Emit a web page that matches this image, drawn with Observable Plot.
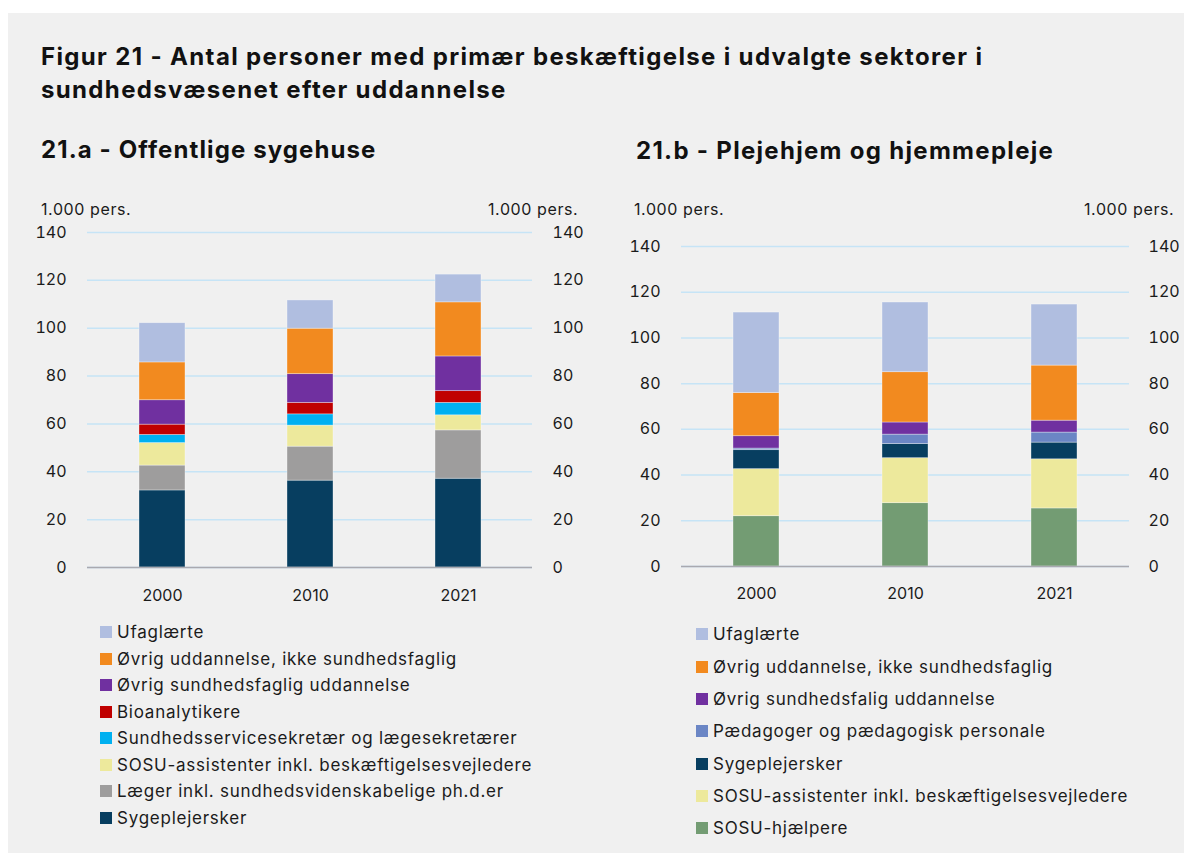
<!DOCTYPE html>
<html>
<head>
<meta charset="utf-8">
<script src="https://cdn.jsdelivr.net/npm/d3@7"></script>
<script src="https://cdn.jsdelivr.net/npm/@observablehq/plot@0.6"></script>
<style>
  body { margin:0; background:#fff; font-family: Inter, "Open Sans", sans-serif; color:#1b1b1b; }
  #panel { position:absolute; left:8px; top:13px; width:1176px; height:840px; background:#f0f0f0; }
  .abs { position:absolute; white-space:nowrap; }
  .title { font-weight:700; font-size:24px; letter-spacing:1.35px; line-height:33px; color:#111; }
  .sub { font-weight:700; font-size:24px; letter-spacing:1.1px; line-height:30px; color:#111; }
  .unit { font-size:16px; letter-spacing:0.6px; line-height:20px; }
  .leg { position:absolute; font-size:17px; letter-spacing:0.75px; line-height:20px; white-space:nowrap; }
  .leg span.sw { position:absolute; left:0; top:4px; width:12px; height:12px; }
  .leg span.tx { position:absolute; left:17px; top:0; }
</style>
</head>
<body>
<div id="panel"></div>
<div class="abs title" style="left:41px;top:40px;">Figur 21 - Antal personer med primær beskæftigelse i udvalgte sektorer i<br>sundhedsvæsenet efter uddannelse</div>
<div class="abs sub" style="left:41px;top:135px;">21.a - Offentlige sygehuse</div>
<div class="abs sub" style="left:636px;top:136px;letter-spacing:1.3px;">21.b - Plejehjem og hjemmepleje</div>
<div class="abs unit" style="left:41px;top:199px;">1.000 pers.</div>
<div class="abs unit" style="left:488px;top:199px;">1.000 pers.</div>
<div class="abs unit" style="left:634px;top:199px;">1.000 pers.</div>
<div class="abs unit" style="left:1084px;top:199px;">1.000 pers.</div>
<div id="chartA" class="abs" style="left:20px;top:215px;"></div>
<div id="chartB" class="abs" style="left:614px;top:215px;"></div>
<div id="legA"></div>
<div id="legB"></div>
<script>
// ---- Data ----
const years = ["2000", "2010", "2021"];
const yTicks = [0, 20, 40, 60, 80, 100, 120, 140];

// 21.a - Offentlige sygehuse (bottom to top), 1.000 pers.
const seriesA = [
  "Sygeplejersker",
  "Læger inkl. sundhedsvidenskabelige ph.d.er",
  "SOSU-assistenter inkl. beskæftigelsesvejledere",
  "Sundhedsservicesekretær og lægesekretærer",
  "Bioanalytikere",
  "Øvrig sundhedsfaglig uddannelse",
  "Øvrig uddannelse, ikke sundhedsfaglig",
  "Ufaglærte"
];
const sygeA      = [32.2, 36.3, 37.1];
const laegerA    = [10.4, 14.2, 20.2];
const sosuAssA   = [9.4, 8.8, 6.3];
const sekrA      = [3.4, 4.7, 5.2];
const bioA       = [4.3, 4.8, 4.9];
const oevrSundhA = [10.2, 12.0, 14.5];
const oevrUddA   = [15.8, 19.0, 22.6];
const ufagA      = [16.4, 11.8, 11.6];
const colorsA = ["#073e60", "#9e9d9d", "#ede99c", "#00b0f0", "#c00000", "#7030a0", "#f28a1f", "#b0bee0"];

// 21.b - Plejehjem og hjemmepleje (bottom to top), 1.000 pers.
const seriesB = [
  "SOSU-hjælpere",
  "SOSU-assistenter inkl. beskæftigelsesvejledere",
  "Sygeplejersker",
  "Pædagoger og pædagogisk personale",
  "Øvrig sundhedsfalig uddannelse",
  "Øvrig uddannelse, ikke sundhedsfaglig",
  "Ufaglærte"
];
const sosuHjB    = [22.0, 27.7, 25.4];
const sosuAssB   = [20.6, 19.7, 21.5];
const sygeB      = [8.3, 6.2, 7.3];
const paedB      = [0.7, 4.1, 4.4];
const oevrSundhB = [5.4, 5.3, 5.2];
const oevrUddB   = [18.9, 22.0, 24.1];
const ufagB      = [35.2, 30.5, 26.7];
const colorsB = ["#739c73", "#ede99c", "#073e60", "#6b86c5", "#7030a0", "#f28a1f", "#b0bee0"];

const valuesA = [sygeA, laegerA, sosuAssA, sekrA, bioA, oevrSundhA, oevrUddA, ufagA];
const valuesB = [sosuHjB, sosuAssB, sygeB, paedB, oevrSundhB, oevrUddB, ufagB];

function toRows(series, values) {
  const rows = [];
  series.forEach((s, i) => years.forEach((y, j) => rows.push({series: s, year: y, value: values[i][j]})));
  return rows;
}

function chart(series, values, colors, o) {
  return Plot.plot({
    width: o.width, height: 400,
    marginLeft: 67, marginRight: o.mr, marginTop: o.mt, marginBottom: o.mb,
    style: {background: "transparent", fontFamily: "Inter, sans-serif", fontSize: "16px", color: "#1b1b1b"},
    x: {domain: years, paddingInner: 0.69, paddingOuter: 0.345, label: null},
    y: {domain: [0, 140], label: null},
    color: {domain: series, range: colors},
    marks: [
      Plot.gridY(yTicks, {stroke: "#c6e4f6", strokeOpacity: 1, strokeWidth: 1.5}),
      Plot.barY(toRows(series, values), {x: "year", y: "value", fill: "series", stroke: "#ffffff", strokeOpacity: 0.45, strokeWidth: 0.75}),
      Plot.ruleY([0], {stroke: "#a9a9b0", strokeWidth: 1.5}),
      Plot.axisX({tickSize: 0, tickPadding: o.xpad, label: null}),
      Plot.axisY(yTicks, {anchor: "left", tickSize: 0, tickPadding: 21, label: null}),
      Plot.axisY(yTicks, {anchor: "right", tickSize: 0, tickPadding: o.rpad, label: null})
    ]
  });
}

document.getElementById("chartA").append(chart(seriesA, valuesA, colorsA, {width: 580, mr: 68, mt: 17, mb: 48, xpad: 22, rpad: 20}));
document.getElementById("chartB").append(chart(seriesB, valuesB, colorsB, {width: 570, mr: 55, mt: 31, mb: 49, xpad: 21, rpad: 19}));

function legend(el, series, colors, x, y0, step) {
  const host = document.getElementById(el);
  series.slice().reverse().forEach((s, i) => {
    const c = colors[series.length - 1 - i];
    const d = document.createElement("div");
    d.className = "leg";
    d.style.left = x + "px";
    d.style.top = (y0 + i * step - 10) + "px";
    d.innerHTML = `<span class="sw" style="background:${c}"></span><span class="tx">${s}</span>`;
    host.append(d);
  });
}
legend("legA", seriesA, colorsA, 100, 632, 26.5);
legend("legB", seriesB, colorsB, 696, 634.3, 32.3);
</script>
</body>
</html>
